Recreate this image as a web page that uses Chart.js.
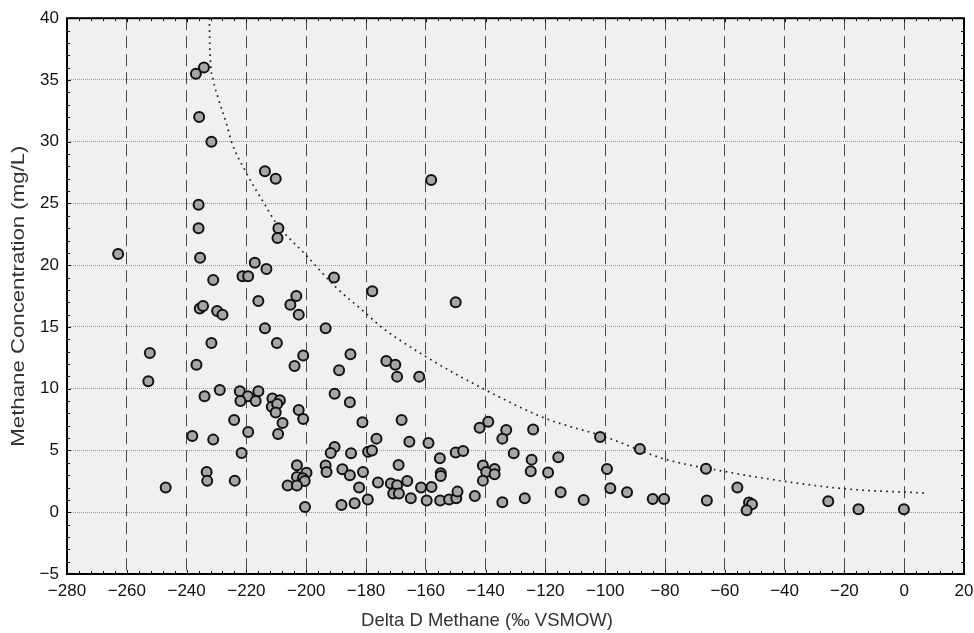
<!DOCTYPE html>
<html>
<head>
<meta charset="utf-8">
<script src="https://cdn.jsdelivr.net/npm/chart.js@4"></script>
<style>
  html, body { margin: 0; padding: 0; background: #fff; }
  #wrap { width: 974px; height: 633px; }
</style>
</head>
<body>
<div id="wrap"><canvas id="c" width="974" height="633"></canvas></div>
<script>
// samples: delta D of methane (permil VSMOW) and methane concentration (mg/L)
const deltaD = [
  -234.2, -236.9, -235.8, -231.7, -213.8, -210.2, -236.0, -236.0, -209.3, -209.6,
  -262.9, -235.5, -217.2, -213.3, -221.3, -219.4, -231.1, -190.7, -177.9, -203.3,
  -216.0, -205.3, -235.6, -234.5, -229.8, -228.0, -202.5, -213.8, -193.5, -231.7,
  -209.8, -252.3, -185.2, -201.0, -173.2, -236.7, -203.9, -189.0, -252.8, -228.9,
  -222.2, -216.0, -219.5, -234.0, -190.5, -222.0, -216.9, -211.3, -208.8, -211.5,
  -209.7, -210.2, -185.4, -202.5, -201.0, -224.1, -207.9, -181.2, -219.4, -209.4,
  -176.5, -238.1, -231.1, -190.5, -191.8, -185.0, -179.3, -178.0, -221.6, -203.1,
  -193.5, -193.2, -187.9, -185.4, -181.0, -233.3, -233.1, -223.9, -199.9, -203.1,
  -201.1, -200.5, -206.2, -203.1, -176.0, -182.3, -247.0, -179.4, -183.8,
  -188.2, -200.4, -158.2, -150.0, -170.2, -169.6, -162.2, -168.1, -165.5, -159.1,
  -142.0, -139.1, -133.1, -134.4, -124.1, -101.7, -88.4, -66.3, -150.0, -147.5,
  -155.3, -130.6, -124.6, -115.7, -169.1, -140.9, -137.0, -139.8, -137.0, -140.9,
  -155.0, -155.0, -124.9, -119.1, -99.4, -171.7, -169.6, -170.9, -169.0, -166.2,
  -161.6, -158.1, -165.0, -159.7, -155.2, -152.2, -149.8, -149.4, -143.6, -134.4,
  -126.9, -114.9, -107.2, -98.3, -92.7, -84.1, -80.3, -66.0, -55.8, -51.9,
  -50.9, -52.7, -25.4, -15.3, -0.1
];
const methane = [
  36.0, 35.5, 32.0, 30.0, 27.6, 27.0, 24.9, 23.0, 23.0, 22.2,
  20.9, 20.6, 20.2, 19.7, 19.1, 19.1, 18.8, 19.0, 17.9, 17.5,
  17.1, 16.8, 16.5, 16.7, 16.3, 16.0, 16.0, 14.9, 14.9, 13.7,
  13.7, 12.9, 12.8, 12.7, 12.25, 11.95, 11.85, 11.5, 10.6, 9.9,
  9.8, 9.8, 9.4, 9.4, 9.6, 9.0, 9.0, 9.2, 9.06, 8.55,
  8.76, 8.07, 8.9, 8.28, 7.55, 7.47, 7.23, 7.28, 6.5, 6.33,
  5.96, 6.17, 5.88, 5.28, 4.8, 4.77, 4.9, 5.0, 4.8, 3.8,
  3.78, 3.26, 3.48, 3.0, 3.26, 3.26, 2.54, 2.56, 3.2, 2.86,
  2.75, 2.53, 2.16, 2.16, 2.4, 2.0, 2.0, 1.03, 0.73,
  0.59, 0.43, 26.9, 17.0, 11.95, 10.98, 10.98, 7.47, 5.7, 5.6,
  6.85, 7.33, 6.66, 5.96, 6.7, 6.1, 5.12, 3.53, 4.83, 4.96,
  4.37, 4.77, 4.26, 4.45, 3.83, 3.78, 3.5, 3.26, 3.07, 2.56,
  3.16, 2.94, 3.32, 3.21, 3.5, 2.32, 2.18, 1.51, 1.51, 2.53,
  2.0, 2.05, 1.13, 0.95, 0.95, 1.03, 1.13, 1.67, 1.32, 0.81,
  1.13, 1.62, 1.0, 1.94, 1.62, 1.08, 1.08, 0.95, 2.0, 0.78,
  0.65, 0.16, 0.89, 0.24, 0.24
];

// dotted trend curve
const curveX = [-232.4, -232.2, -231.1, -229.4, -226.6, -225.0, -220.3, -213.8, -210.0, -200.0, -190.0,
                -180.0, -175.4, -160.0, -140.0, -120.0, -100.0, -80.0, -60.0, -40.0, -20.0, 7.8];
const curveY = [40.0, 37.4, 35.0, 33.5, 31.4, 30.0, 27.6, 24.9, 23.4, 20.8, 18.2,
                16.1, 15.1, 12.6, 9.9, 7.6, 6.1, 4.3, 3.3, 2.5, 1.9, 1.54];

const xTicks = [-280, 20, 20];   // min, max, step
const yTicks = [-5, 40, 5];

const xTitle = 'Delta D Methane (\u2030 VSMOW)';
const yTitle = 'Methane Concentration (mg/L)';

const minus = v => (v < 0 ? '\u2212' + Math.abs(v) : String(v));
const FONT = 'Liberation Sans, Arial, sans-serif';

// plot background, frame, small inner ticks and the axis titles
const framePlugin = {
  id: 'frame',
  beforeDraw(chart) {
    const a = chart.chartArea, ctx = chart.ctx;
    ctx.save();
    ctx.fillStyle = '#f0f0f0';
    ctx.fillRect(a.left, a.top, a.right - a.left, a.bottom - a.top);
    ctx.restore();
  },
  afterDraw(chart) {
    const a = chart.chartArea, ctx = chart.ctx;
    const sx = chart.scales.x, sy = chart.scales.y;
    ctx.save();
    ctx.strokeStyle = '#111';
    ctx.lineWidth = 1;
    ctx.beginPath();
    for (let v = xTicks[0]; v <= xTicks[1]; v += 4) {
      const p = Math.round(sx.getPixelForValue(v)) + 0.5;
      const len = v % 20 === 0 ? 4 : 3;
      ctx.moveTo(p, a.top); ctx.lineTo(p, a.top + len);
      ctx.moveTo(p, a.bottom); ctx.lineTo(p, a.bottom - len);
    }
    for (let v = yTicks[0]; v <= yTicks[1]; v += 1) {
      const p = Math.round(sy.getPixelForValue(v)) + 0.5;
      const len = v % 5 === 0 ? 4 : 3;
      ctx.moveTo(a.left, p); ctx.lineTo(a.left + len, p);
      ctx.moveTo(a.right, p); ctx.lineTo(a.right - len, p);
    }
    ctx.stroke();
    ctx.lineWidth = 2;
    ctx.strokeStyle = '#000';
    ctx.strokeRect(a.left, a.top, a.right - a.left, a.bottom - a.top);

    // titles
    ctx.fillStyle = '#333';
    ctx.textAlign = 'center';
    ctx.textBaseline = 'middle';
    ctx.font = '18.5px ' + FONT;
    ctx.fillText(xTitle, chart.width / 2, 621);
    ctx.translate(19, (a.top + a.bottom) / 2);
    ctx.rotate(-Math.PI / 2);
    ctx.scale(1.2, 1);
    ctx.fillText(yTitle, 0, 0);
    ctx.restore();
  }
};

const edge = (min, max, color) => ctx => {
  const v = ctx.tick && ctx.tick.value;
  return (v === min || v === max) ? 'rgba(0,0,0,0)' : color;
};

new Chart(document.getElementById('c'), {
  type: 'scatter',
  data: {
    datasets: [{
      label: 'Samples',
      data: deltaD.map((x, i) => ({ x, y: methane[i] })),
      pointRadius: 5,
      pointHoverRadius: 5,
      pointBackgroundColor: '#a6a6a6',
      pointBorderColor: '#111',
      pointBorderWidth: 2,
      order: 1
    }, {
      label: 'Trend',
      type: 'line',
      data: curveX.map((x, i) => ({ x, y: curveY[i] })),
      showLine: true,
      pointRadius: 0,
      borderColor: '#222',
      borderWidth: 1.7,
      borderDash: [1.7, 4.3],
      cubicInterpolationMode: 'monotone',
      fill: false,
      order: 2
    }]
  },
  options: {
    responsive: false,
    animation: false,
    layout: { padding: { left: 0, right: 0, top: 17, bottom: 0 } },
    plugins: {
      legend: { display: false },
      tooltip: { enabled: false }
    },
    scales: {
      x: {
        type: 'linear',
        min: xTicks[0],
        max: xTicks[1],
        afterFit: s => { s.height = 59; s.paddingRight = 10; s.paddingLeft = 0; },
        ticks: {
          stepSize: xTicks[2],
          color: '#111',
          padding: 7,
          maxRotation: 0,
          font: { family: FONT, size: 17 },
          callback: v => minus(v)
        },
        grid: {
          drawTicks: false,
          color: edge(xTicks[0], xTicks[1], '#4a4a4a'),
          lineWidth: 1
        },
        border: { display: false, dash: [12, 6] },
        title: { display: false }
      },
      y: {
        type: 'linear',
        min: yTicks[0],
        max: yTicks[1],
        afterFit: s => { s.width = 67; },
        ticks: {
          stepSize: yTicks[2],
          color: '#111',
          padding: 8,
          font: { family: FONT, size: 17 },
          callback: v => minus(v)
        },
        grid: {
          drawTicks: false,
          color: edge(yTicks[0], yTicks[1], '#9a9a9a'),
          lineWidth: 1
        },
        border: { display: false, dash: [1, 1] },
        title: { display: false }
      }
    }
  },
  plugins: [framePlugin]
});
</script>
</body>
</html>
